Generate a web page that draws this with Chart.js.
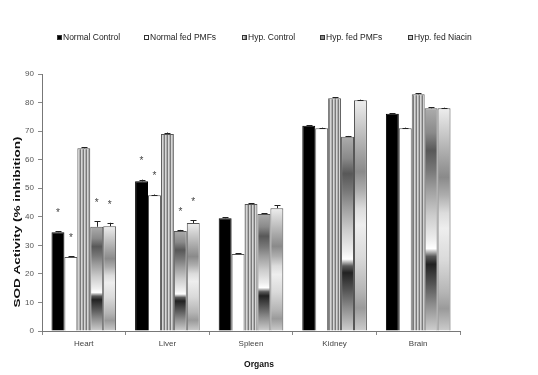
<!DOCTYPE html>
<html>
<head>
<meta charset="utf-8">
<script src="https://cdn.jsdelivr.net/npm/chart.js@4"></script>
<style>
html,body{margin:0;padding:0;background:#fff;}
#wrap{width:538px;height:375px;position:relative;}
</style>
</head>
<body>
<div id="wrap"><canvas id="c" width="538" height="375"></canvas></div>
<script>
// ---- data ----
const categories = ['Heart', 'Liver', 'Spleen', 'Kidney', 'Brain'];
const seriesNames = ['Normal Control', 'Normal fed PMFs', 'Hyp. Control', 'Hyp. fed PMFs', 'Hyp. fed Niacin'];
const normalControl = [34.6, 52.4, 39.5, 71.9, 76.1];
const normalPMFs    = [25.9, 47.5, 27.0, 71.0, 71.0];
const hypControl    = [64.0, 69.0, 44.5, 81.5, 82.9];
const hypPMFs       = [36.5, 35.0, 41.0, 68.0, 78.0];
const hypNiacin     = [36.7, 37.8, 43.0, 80.8, 78.0];
const errNormalControl = [0.4, 0.6, 0.3, 0.2, 0.2];
const errNormalPMFs    = [0.3, 0.3, 0.3, 0.2, 0.2];
const errHypControl    = [0.4, 0.5, 0.3, 0.3, 0.4];
const errHypPMFs       = [2.0, 0.4, 0.3, 0.3, 0.3];
const errHypNiacin     = [1.2, 1.0, 1.0, 0.2, 0.2];
const starNormalControl = [1, 1, 0, 0, 0];
const starNormalPMFs    = [1, 1, 0, 0, 0];
const starHypControl    = [0, 0, 0, 0, 0];
const starHypPMFs       = [1, 1, 0, 0, 0];
const starHypNiacin     = [1, 1, 0, 0, 0];
const yTicks = [0, 10, 20, 30, 40, 50, 60, 70, 80, 90];
const yTitle = 'SOD Activity (% inhibition)';
const xTitle = 'Organs';

// ---- fills ----
function stripePattern(){
  const pc = document.createElement('canvas');
  pc.width = 3; pc.height = 4;
  const p = pc.getContext('2d');
  p.fillStyle = '#d6d6d6'; p.fillRect(0,0,3,4);
  p.fillStyle = '#7a7a7a'; p.fillRect(2,0,1,4);
  p.fillStyle = '#b0b0b0'; p.fillRect(1,0,1,4);
  return document.getElementById('c').getContext('2d').createPattern(pc,'repeat');
}
const stripes = stripePattern();
const pmfStops = [[0,'#acacac'],[0.11,'#8a8a8a'],[0.19,'#585858'],[0.28,'#787878'],[0.36,'#9c9c9c'],[0.48,'#cccccc'],[0.59,'#eeeeee'],[0.63,'#ffffff'],[0.665,'#5a5a5a'],[0.70,'#222222'],[0.79,'#555555'],[0.88,'#8c8c8c'],[1,'#cfcfcf']];
const niaStops = [[0,'#eeeeee'],[0.10,'#cdcdcd'],[0.25,'#9c9c9c'],[0.31,'#8a8a8a'],[0.39,'#adadad'],[0.47,'#dcdcdc'],[0.54,'#eeeeee'],[0.68,'#dadada'],[0.83,'#b4b4b4'],[0.90,'#9a9a9a'],[1,'#cccccc']];
function gradFill(stops){
  return function(ctx){
    const chart = ctx.chart;
    if(!chart.chartArea || ctx.type !== 'data') return '#999';
    const y = chart.scales.y;
    const top = y.getPixelForValue(ctx.raw), bot = y.getPixelForValue(0);
    const g = chart.ctx.createLinearGradient(0, top, 0, bot);
    stops.forEach(s => g.addColorStop(s[0], s[1]));
    return g;
  };
}

const FONT = "'Liberation Sans', Arial, sans-serif";
const seriesValues = [normalControl, normalPMFs, hypControl, hypPMFs, hypNiacin];
const seriesErr = [errNormalControl, errNormalPMFs, errHypControl, errHypPMFs, errHypNiacin];
const seriesStar = [starNormalControl, starNormalPMFs, starHypControl, starHypPMFs, starHypNiacin];
const fills = ['#000000', '#ffffff', stripes, gradFill(pmfStops), gradFill(niaStops)];
const legendFills = ['#000000', '#ffffff', stripes, '#8a8a8a', '#c8c8c8'];

const datasets = seriesValues.map((vals, i) => ({
  label: seriesNames[i],
  data: vals,
  backgroundColor: fills[i],
  borderColor: i === 0 ? '#000' : '#555',
  borderWidth: 1,
  borderSkipped: 'bottom',
  categoryPercentage: 0.773,
  barPercentage: 1.0
}));

const extras = {
  id: 'extras',
  afterDatasetsDraw(chart){
    const c = chart.ctx, y = chart.scales.y;
    c.save();
    chart.data.datasets.forEach((ds, di) => {
      const meta = chart.getDatasetMeta(di);
      meta.data.forEach((bar, i) => {
        const v = ds.data[i], e = seriesErr[di][i];
        const yt = y.getPixelForValue(v + e), yb = y.getPixelForValue(v);
        c.strokeStyle = '#222'; c.lineWidth = 1;
        c.beginPath();
        c.moveTo(Math.round(bar.x)+0.5, yb); c.lineTo(Math.round(bar.x)+0.5, yt);
        c.moveTo(Math.round(bar.x)-2.5, Math.round(yt)+0.5); c.lineTo(Math.round(bar.x)+3.5, Math.round(yt)+0.5);
        c.stroke();
        if (seriesStar[di][i]) {
          c.fillStyle = '#444';
          c.font = '10px ' + FONT;
          c.textAlign = 'center'; c.textBaseline = 'middle';
          c.fillText('*', bar.x, yt - 18);
        }
      });
    });
    c.restore();
  },
  afterDraw(chart){
    const c = chart.ctx;
    c.save();
    // legend
    const lx = [57, 144, 242, 320, 408];
    c.font = '8.5px ' + FONT;
    c.textBaseline = 'middle'; c.textAlign = 'left';
    seriesNames.forEach((n, i) => {
      c.fillStyle = legendFills[i];
      c.fillRect(lx[i], 35, 5, 5);
      c.strokeStyle = '#333'; c.lineWidth = 1;
      c.strokeRect(lx[i]+0.5, 35.5, 4, 4);
      c.fillStyle = '#222';
      c.fillText(n, lx[i] + 6, 38);
    });
    // y title
    c.translate(18, 222);
    c.rotate(-Math.PI/2);
    c.scale(1.5, 1);
    c.font = 'bold 9px ' + FONT;
    c.fillStyle = '#111'; c.textAlign = 'center'; c.textBaseline = 'middle';
    c.fillText(yTitle, 0, 0);
    c.setTransform(1,0,0,1,0,0);
    // x title
    c.font = 'bold 8.5px ' + FONT;
    c.fillStyle = '#111'; c.textAlign = 'center'; c.textBaseline = 'middle';
    c.fillText(xTitle, 259, 365);
    c.restore();
  }
};

new Chart(document.getElementById('c'), {
  type: 'bar',
  data: { labels: categories, datasets },
  options: {
    responsive: false,
    animation: false,
    devicePixelRatio: 1,
    layout: { padding: { top: 74, right: 78, left: 0, bottom: 0 } },
    plugins: { legend: { display: false }, tooltip: { enabled: false } },
    scales: {
      y: {
        min: 0, max: 90,
        afterBuildTicks(s){ s.ticks = yTicks.map(v => ({ value: v })); },
        afterFit(s){ s.width = 42; },
        ticks: { font: { family: FONT, size: 8 }, color: '#555', padding: 4 },
        grid: { display: true, drawOnChartArea: false, drawTicks: true, tickLength: 4, color: '#888' },
        border: { display: true, color: '#777', width: 1 }
      },
      x: {
        afterFit(s){ s.height = 44; },
        ticks: { font: { family: FONT, size: 8 }, color: '#444', padding: 4 },
        grid: { display: true, offset: true, drawOnChartArea: false, drawTicks: true, tickLength: 4, color: '#888' },
        border: { display: true, color: '#777', width: 1 }
      }
    }
  },
  plugins: [extras]
});
</script>
</body>
</html>
